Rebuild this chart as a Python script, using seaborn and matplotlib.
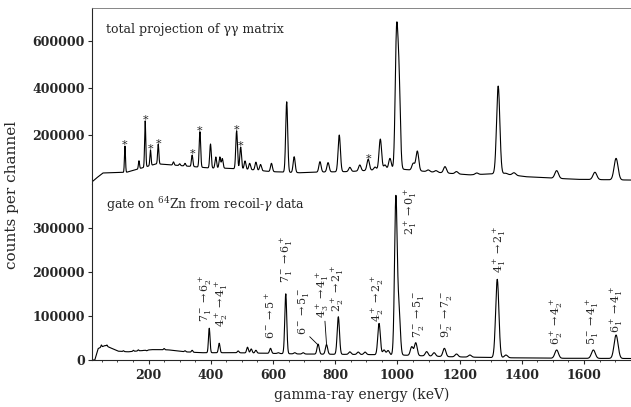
import numpy as np
import seaborn as sns
import matplotlib.pyplot as plt
from matplotlib.ticker import MultipleLocator, FixedLocator

# --- top panel: total projection of the gamma-gamma matrix ---
top_bg_energy = [17, 30, 53, 129, 226, 344, 397, 451, 542, 590, 686, 751, 847, 928, 1008, 1094, 1233, 1330, 1415, 1576, 1751]
top_bg_counts = [0, 15000, 39000, 42000, 78000, 66000, 60000, 59000, 52000, 45000, 40000, 43000, 45000, 52000, 56000, 45000, 31000, 37000, 23000, 12000, 9000]

top_peak_energy = [124, 169, 189, 206, 231, 280, 300, 317, 340, 365, 399, 416, 429, 437, 483, 496, 510, 525, 545, 560,
                   595, 644, 668, 751, 777, 813, 847, 879, 906, 928, 945, 960, 976, 997, 1005, 1051, 1064, 1099, 1124,
                   1153, 1190, 1255, 1324, 1348, 1375, 1512, 1635, 1703]
top_peak_counts = [153000, 91000, 260000, 137000, 161000, 86000, 78000, 80000, 115000, 214000, 162000, 107000, 107000, 100000,
                   218000, 149000, 90000, 80000, 85000, 75000,
                   80000, 341000, 108000, 87000, 83000, 200000, 63000, 73000, 97000, 64000, 183000, 73000, 101000, 600000,
                   420000, 80000, 132000, 52000, 49000, 66000, 45000, 39000, 408000, 38000, 40000, 49000, 42000, 101000]

# peaks flagged with a star (contaminants)
star_energy = [124, 189, 206, 231, 340, 365, 483, 496, 906]
star_counts = [153000, 260000, 137000, 161000, 115000, 214000, 218000, 149000, 97000]

# --- bottom panel: gate on 64Zn from recoil-gamma data ---
bot_bg_energy = [17, 27, 38, 60, 102, 134, 211, 263, 317, 370, 477, 595, 687, 880, 1008, 1158, 1330, 1522, 1751]
bot_bg_counts = [0, 0, 26000, 33000, 20000, 18500, 23500, 23000, 18500, 16500, 16500, 15000, 13600, 12500, 11300, 7500, 5200, 3900, 3400]

bot_peak_energy = [48, 66, 119, 151, 167, 178, 194, 250, 301, 317, 340, 395, 427, 488, 518, 530, 545, 592, 617, 641,
                   670, 697, 745, 772, 810, 847, 874, 896, 941, 957, 970, 995, 1005, 1046, 1059, 1094, 1118, 1151,
                   1190, 1233, 1321, 1349, 1512, 1630, 1703]
bot_peak_counts = [34000, 34000, 21000, 22000, 23000, 21000, 21000, 26000, 20000, 21000, 22000, 72000, 38000, 20500,
                   29000, 25000, 22000, 26500, 16500, 150000, 16500, 16500, 36000, 35000, 98000, 18500, 18000, 18000,
                   83000, 22700, 21500, 367000, 110000, 30000, 39000, 19000, 16500, 26500, 13600, 11300, 183000, 11300,
                   22700, 22700, 56700]

# transition labels: text, label energy, label base counts
trans_labels = [r"$7^-_1\rightarrow6^+_2$", r"$4^+_2\rightarrow4^+_1$", r"$6^-\rightarrow5^+$",
                r"$7^-_1\rightarrow6^+_1$", r"$6^-\rightarrow5^-_1$", r"$4^+_3\rightarrow4^+_1$",
                r"$2^+_2\rightarrow2^+_1$", r"$4^+_2\rightarrow2^+_2$", r"$2^+_1\rightarrow0^+_1$",
                r"$7^-_2\rightarrow5^-_1$", r"$9^-_2\rightarrow7^-_2$", r"$4^+_1\rightarrow2^+_1$",
                r"$6^+_2\rightarrow4^+_2$", r"$5^-_1\rightarrow4^+_1$", r"$6^+_1\rightarrow4^+_1$"]
label_energy = [385, 437, 592, 644, 697, 762, 810, 938, 1042, 1067, 1158, 1330, 1512, 1630, 1705]
label_counts = [86900, 75300, 47600, 174600, 56700, 95300, 109500, 86900, 283500, 49200, 49200, 196600, 34000, 34000, 60600]

# leader lines (label end -> peak)
leader_energy = [(718, 745), (767, 772)]
leader_counts = [(52800, 34000), (88000, 36300)]

XMIN, XMAX = 17, 1751


def build_spectrum(bg_e, bg_c, pk_e, pk_c):
    chan = np.arange(XMIN, XMAX, 0.5)
    bg = np.interp(chan, bg_e, bg_c)
    spec = bg.copy()
    for e, c in zip(pk_e, pk_c):
        amp = c - np.interp(e, bg_e, bg_c)
        sigma = (3.0 + 0.007 * e) / 2.355
        spec += amp * np.exp(-0.5 * ((chan - e) / sigma) ** 2)
    return chan, spec


sns.set_style("ticks")
plt.rcParams["font.family"] = ["DejaVu Serif"]
plt.rcParams["mathtext.fontset"] = "dejavuserif"

fig = plt.figure(figsize=(6.31, 4.07), dpi=100)
ax_top = fig.add_axes([0.1453, 0.5472, 0.8547, 0.4324])
ax_bot = fig.add_axes([0.1453, 0.1143, 0.8547, 0.4329])

e_top, s_top = build_spectrum(top_bg_energy, top_bg_counts, top_peak_energy, top_peak_counts)
e_bot, s_bot = build_spectrum(bot_bg_energy, bot_bg_counts, bot_peak_energy, bot_peak_counts)

sns.lineplot(x=e_top, y=s_top, ax=ax_top, color="black", linewidth=0.8, estimator=None, sort=False)
sns.lineplot(x=e_bot, y=s_bot, ax=ax_bot, color="black", linewidth=0.8, estimator=None, sort=False)

for ax in (ax_top, ax_bot):
    ax.set_xlim(XMIN, XMAX)
    ax.spines["right"].set_visible(False)
    ax.spines["left"].set_linewidth(0.8)
    ax.tick_params(axis="y", direction="out", length=3, width=0.8, labelsize=9, pad=2)
    ax.ticklabel_format(style="plain", axis="y")
    ax.set_ylabel("")

ax_top.set_ylim(-9000, 738000)
ax_top.yaxis.set_major_locator(FixedLocator([200000, 400000, 600000]))
ax_top.tick_params(axis="x", bottom=False, labelbottom=False)
ax_top.spines["top"].set_color("0.45")
ax_top.spines["top"].set_linewidth(0.6)
ax_top.spines["bottom"].set_color("0.45")
ax_top.spines["bottom"].set_linewidth(0.6)

ax_bot.set_ylim(-1100, 398400)
ax_bot.yaxis.set_major_locator(FixedLocator([0, 100000, 200000, 300000]))
ax_bot.spines["top"].set_visible(False)
ax_bot.xaxis.set_major_locator(MultipleLocator(200))
ax_bot.xaxis.set_minor_locator(MultipleLocator(50))
ax_bot.tick_params(axis="x", which="major", direction="out", length=3, width=0.8, labelsize=9, pad=3)
ax_bot.tick_params(axis="x", which="minor", direction="out", length=1.5, width=0.6)
ax_bot.set_xticks([200, 400, 600, 800, 1000, 1200, 1400, 1600])

for lbl in ax_top.get_yticklabels() + ax_bot.get_yticklabels() + ax_bot.get_xticklabels():
    lbl.set_fontweight("bold")

ax_top.text(0.0265, 0.877, "total projection of \u03b3\u03b3 matrix", transform=ax_top.transAxes,
            ha="left", va="center", fontsize=9)
ax_bot.text(0.0265, 0.8825, r"gate on $^{64}$Zn from recoil-$\gamma$ data", transform=ax_bot.transAxes,
            ha="left", va="center", fontsize=9)

for e, c in zip(star_energy, star_counts):
    ax_top.annotate("*", xy=(e, c), xytext=(0, -3), textcoords="offset points",
                    ha="center", va="bottom", fontsize=8)

for txt, e, c in zip(trans_labels, label_energy, label_counts):
    ax_bot.text(e, c, txt, rotation=90, ha="center", va="bottom", fontsize=8)

for (e0, e1), (c0, c1) in zip(leader_energy, leader_counts):
    ax_bot.plot([e0, e1], [c0, c1], color="black", linewidth=0.6)

ax_bot.set_xlabel("gamma-ray energy (keV)", fontsize=10, labelpad=4)
fig.text(0.019, 0.522, "counts per channel", rotation=90, ha="center", va="center", fontsize=11)

fig.savefig("out.png", dpi=100)
